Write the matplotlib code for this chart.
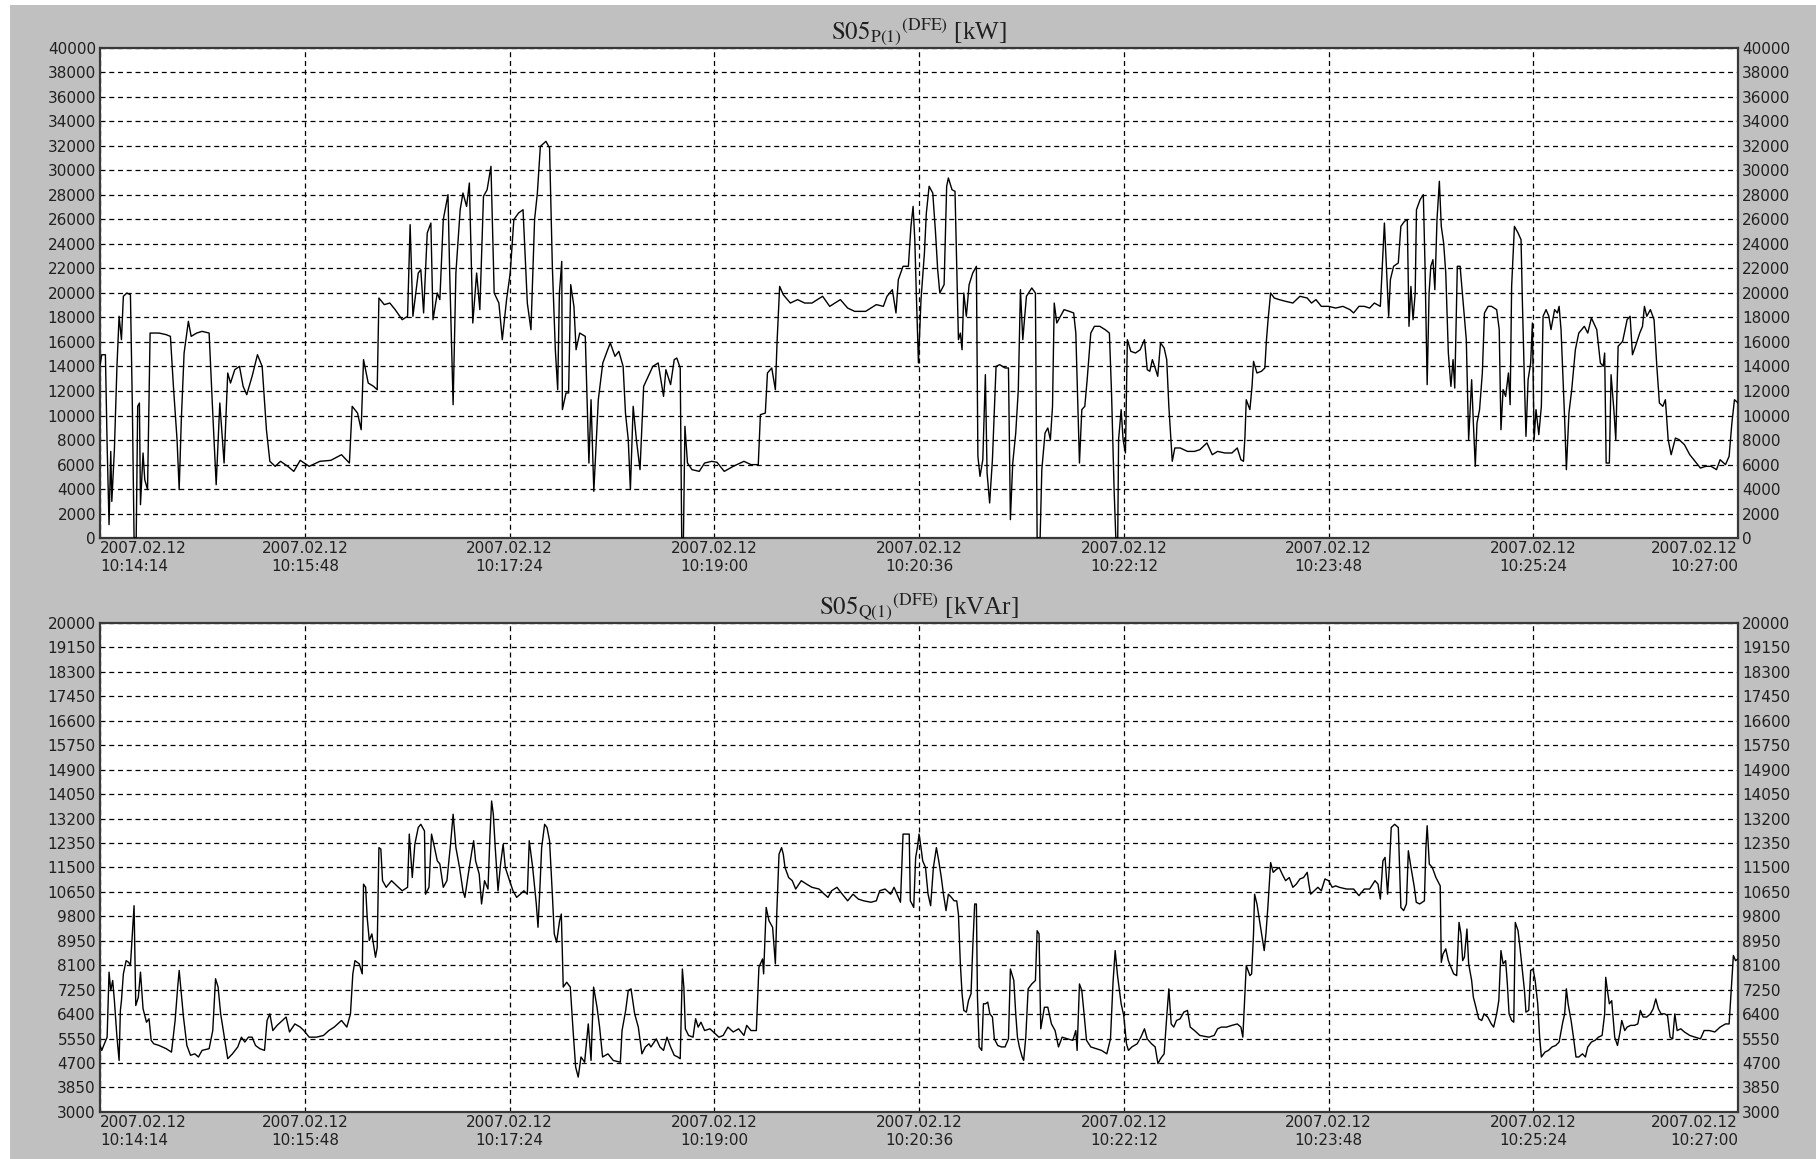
import numpy as np
import matplotlib
matplotlib.use('Agg')
import matplotlib.pyplot as plt
from matplotlib.patches import Rectangle

plt.rcParams['font.family'] = 'DejaVu Sans'
plt.rcParams['mathtext.fontset'] = 'stix'

# time axis: seconds after 2007.02.12 10:14:14
tick_dates = ['2007.02.12'] * 9
tick_times = ['10:14:14', '10:15:48', '10:17:24', '10:19:00', '10:20:36',
              '10:22:12', '10:23:48', '10:25:24', '10:27:00']
span_s = 766.0

# active power P(1) [kW]
p_t = [0.0, 0.8, 2.5, 3.3, 4.2, 5.0, 5.5, 6.7, 7.9, 8.9, 10.0, 10.9, 12.5, 14.2, 15.1,
       15.9, 16.9, 17.6, 18.4, 18.9, 20.1, 20.9, 22.2, 23.4, 25.1, 27.6, 30.9, 32.9, 34.3,
       36.0, 37.0, 38.0, 39.3, 41.3, 42.6, 45.2, 47.7, 51.0, 52.7, 54.3, 56.0, 58.0, 59.7,
       61.0, 63.0, 65.2, 66.9, 68.6, 71.1, 73.6, 75.8, 77.8, 79.4, 81.9, 84.4, 87.8, 90.6,
       93.6, 97.8, 102.8, 107.9, 112.9, 116.6, 117.9, 120.4, 122.1, 123.2, 125.4, 127.9,
       129.6, 130.4, 132.9, 135.5, 138.0, 141.3, 143.8, 145.0, 146.3, 148.8, 150.0, 151.3,
       153.0, 154.7, 155.7, 157.7, 158.9, 160.5, 162.7, 163.5, 165.1, 166.4, 168.4, 169.7,
       171.4, 172.7, 174.3, 176.1, 177.6, 179.3, 181.0, 182.8, 184.3, 186.5, 188.1, 190.1,
       191.8, 193.5, 195.7, 197.8, 199.8, 201.5, 203.2, 204.5, 205.9, 208.5, 210.2, 211.5,
       212.9, 214.0, 214.8, 215.9, 216.2, 217.9, 219.1, 220.1, 221.6, 222.6, 224.3, 226.9,
       228.6, 229.6, 230.9, 233.0, 235.1, 237.1, 238.6, 240.8, 242.6, 244.6, 245.7, 247.0,
       248.0, 249.3, 250.8, 252.5, 254.2, 256.7,
       258.5, 261.0, 263.5, 264.6, 266.8, 268.5, 269.7, 271.3, 272.0, 272.8, 273.5, 274.7,
       276.8, 280.2, 282.7, 286.0, 288.5, 291.9, 296.1, 301.1, 304.4, 307.8, 308.8, 311.1,
       312.1, 314.1, 315.8, 316.6, 317.8, 319.5, 322.8, 326.2, 329.5, 332.9, 337.9, 341.2,
       346.2, 349.6, 352.9, 358.0, 363.0, 366.3, 368.0, 370.5, 372.2, 373.3, 375.5, 378.0,
       379.2, 380.2, 381.0, 381.7, 382.7, 383.9, 385.5, 386.4, 387.7, 389.4, 390.7, 391.7,
       392.7, 394.7, 395.9, 396.7, 398.4, 399.8, 400.6, 401.4, 402.3, 403.1, 403.9, 405.1,
       406.4, 408.1, 409.8, 410.5, 411.5, 412.8, 414.0, 414.8, 416.0, 417.3, 419.0, 420.7,
       423.2, 424.8, 425.7, 426.8, 428.2, 429.4, 430.4, 431.5, 433.2, 435.7, 437.4, 438.2,
       439.6, 440.4, 441.9, 443.2, 444.4, 445.4, 446.2, 447.4, 449.1, 450.8, 453.3, 455.3,
       456.3, 457.0, 458.0, 459.1, 460.5, 461.6, 463.3, 465.0, 467.5, 470.0, 472.0, 473.0,
       474.2, 475.0, 475.9, 476.3, 477.5, 478.4, 479.5, 480.4, 482.0, 484.2, 486.4, 488.4,
       489.7, 490.9, 492.1, 493.4, 494.6, 495.9, 497.6, 498.8, 499.8, 501.4, 502.6, 505.1,
       508.5, 511.8, 514.3,
       517.6, 520.1, 522.6, 526.0, 529.3, 531.8, 533.5, 534.7, 535.4, 536.0, 537.7, 538.7,
       539.4, 541.0, 543.1, 544.7, 545.4, 546.2, 547.4, 549.1, 551.4, 554.4, 557.8, 561.1,
       564.5, 566.5, 568.6, 571.1, 574.5, 577.8, 581.2, 584.5, 586.2, 588.7, 591.2, 593.7,
       595.9, 598.7, 599.6, 600.6, 601.6, 602.6, 603.4, 604.9, 607.1, 608.3, 610.0, 611.3,
       612.1, 613.0, 614.0, 615.0, 615.6, 617.3, 618.8, 619.6, 620.6, 621.5, 622.3, 623.3,
       624.2, 625.2, 626.3, 627.2, 628.3, 629.3, 630.5, 631.7, 632.7, 633.5, 634.7, 636.0,
       637.2, 638.9, 640.0, 641.4, 642.2, 643.1, 643.9, 645.1, 646.4, 647.4, 649.1, 650.7,
       653.1, 654.3, 655.1, 656.1, 657.3, 658.6, 659.4, 660.1, 661.4, 663.1, 664.5, 665.1,
       666.1, 666.8, 667.8, 669.0, 669.8, 670.6, 671.5, 672.8, 674.0, 674.8, 676.2, 677.5,
       678.5, 680.2, 681.5, 682.3, 683.2, 684.9, 685.7, 686.9, 688.2, 689.9, 691.5, 694.1,
       695.7, 697.4, 699.9, 701.6, 702.9, 703.6, 704.3, 705.8, 706.6, 707.9, 708.8, 709.9,
       712.0, 714.1, 715.5, 716.6, 718.0, 720.0, 721.3, 722.2, 723.3, 725.0, 726.7, 728.0,
       729.2, 730.8, 732.0, 733.3, 734.7, 736.7, 738.4, 740.9, 743.4, 745.9, 748.4, 750.9,
       753.4, 755.9, 757.6, 760.1, 761.8, 763.1, 764.3, 766.0]
p_kw = [14150, 14960, 14960, 7620, 1090, 7070, 2990, 7210, 14010, 18100, 16190, 19730, 20000,
        19860, 10750, 0, 0, 10750, 11020, 2720, 6940, 4760, 3950, 16730, 16730, 16730, 16600,
        16460, 12380, 8030, 3950, 9660, 15100, 17690, 16460, 16730, 16870, 16730, 10200, 4350,
        11020, 6120, 13470, 12650, 13740, 14010, 12380, 11700, 13200, 14960, 14010, 8840, 6260,
        5850, 6260, 5850, 5440, 6340, 5850, 6260, 6340, 6800, 6120, 10750, 10200, 8840, 14560,
        12650, 12380, 12110, 19590, 19050, 19180, 18640, 17820, 18100, 25580, 18100, 21630,
        21900, 18370, 24900, 25710, 17820, 20000, 19460, 25990, 28030, 21630, 10880, 21630,
        26800, 28160, 27070, 28980, 17550, 21630, 18640, 27890, 28430, 30340, 20000, 19180,
        16190, 19460, 21630, 25990, 26530, 26800, 19180, 17000, 25990, 28160, 31970, 32380,
        31840, 22180, 15370, 12110, 20000, 22580, 10480, 11840, 11840, 20680, 18910, 15370,
        16730, 16460, 6120, 11290, 3810, 11290, 14290, 15240, 15920, 14830, 15240, 14010,
        10200, 8030, 3950, 10750, 8030, 5580, 12380, 13330,
        14010, 14290, 11560, 13740, 12520, 14560, 14690, 13880, 0, 0, 9120, 6120,
        5580, 5440, 6120, 6260, 6180, 5440, 5850, 6260, 5990, 5990, 10070, 10200,
        13470, 13880, 12110, 16050, 20540, 19860, 19180, 19460, 19180, 19180, 19730, 18910,
        19460, 18770, 18500, 18500, 19050, 18910, 19730, 20270, 18370, 21090, 22180, 22180,
        25440, 27070, 24350, 20000, 14290, 19460, 23270, 26530, 28710, 28160, 24900, 21900,
        20000, 20680, 28710, 29390, 28430, 28300, 22180, 16190, 16730, 15370, 20000, 18100,
        20680, 21630, 22180, 6670, 5030, 6390, 13330, 5310, 2860, 6390, 14010, 14150,
        13880, 13880, 1500, 6120, 8570, 12110, 20270, 16190, 19730, 20410, 20000, 0,
        0, 5580, 8570, 8980, 8030, 10750, 19180, 17550, 18100, 18640, 18500, 18370,
        16730, 12380, 6120, 10480, 10750, 12920, 16730, 17280, 17280, 17010, 16730, 11840,
        3950, 0, 0, 8030, 10480, 8030, 6940, 16190, 15240, 15100, 15370, 16190,
        13740, 13610, 14560, 13880, 13200, 15920, 15510, 14560, 10750, 6260, 7350, 7350,
        7070, 7070, 7210,
        7760, 6800, 7070, 6940, 6940, 7350, 6390, 6260, 8300, 11290, 10480, 12380,
        14420, 13470, 13610, 13880, 16050, 17820, 20000, 19590, 19460, 19320, 19180, 19730,
        19590, 19180, 19460, 18910, 18910, 18770, 18910, 18640, 18370, 18910, 18910, 18770,
        19180, 18910, 22180, 25710, 21900, 18100, 21090, 22180, 22450, 25440, 25850, 25990,
        17280, 20540, 17820, 20000, 26800, 27620, 28030, 22180, 12520, 20000, 22180, 22720,
        20270, 25990, 29120, 25440, 24080, 21630, 15100, 12380, 14560, 12240, 22180, 22180,
        19730, 16190, 8030, 12920, 9390, 5850, 9390, 10480, 13470, 18370, 18910, 18910,
        18640, 17010, 8840, 12110, 11560, 13470, 10880, 20540, 25440, 24900, 24350, 19460,
        12650, 8300, 12920, 14290, 17550, 8030, 10480, 8440, 10750, 18100, 18640, 18100,
        17010, 18640, 18370, 18910, 17010, 9660, 5580, 10200, 12110, 15370, 16730, 17280,
        16730, 17960, 17010, 14290, 14010, 15100, 6120, 6120, 13330, 10480, 8030, 15650,
        16050, 17820, 18100, 14960, 15650, 16730, 17280, 18910, 18100, 18640, 17820, 14010,
        11020, 10750, 11290, 8030, 6800, 8160, 8030, 7620, 6800, 6260, 5710, 5850,
        5850, 5580, 6390, 5990, 6670, 9390, 11290, 11020]

# reactive power Q(1) [kVAr]
q_t = [0.0, 0.8, 1.7, 3.3, 4.2, 5.0, 5.9, 6.7, 7.9, 8.9, 9.5, 10.0, 10.9, 12.2, 13.4, 14.2,
       15.1, 15.9, 16.7, 17.9, 18.9, 20.1, 21.7, 22.9, 23.9, 25.1, 27.6, 30.9, 33.4, 35.1,
       36.3, 37.0, 38.0, 39.0, 40.6, 42.3, 44.3, 46.0, 47.7, 51.0, 52.7, 54.0, 55.2, 56.4,
       58.0, 59.7, 61.9, 64.4, 66.1, 67.7, 69.4, 71.1, 72.7, 74.7, 76.9, 78.1, 79.4, 80.8,
       82.8, 85.3, 87.0, 88.6, 91.1, 93.6, 95.3, 97.8, 101.2, 104.5, 107.0, 109.5, 112.9,
       115.4, 117.1, 118.2, 119.2, 121.2, 122.6, 123.2, 124.2, 124.9, 125.9, 127.1, 128.8,
       129.6, 130.4, 131.3, 132.1, 133.8, 136.3, 138.8, 141.3, 143.8, 144.6, 146.0, 147.2,
       148.8, 150.0, 151.7, 152.2, 153.8, 155.0, 156.4, 157.7, 158.9, 160.5, 162.2, 163.9,
       165.1, 166.4, 168.1, 169.7, 170.6, 172.2, 173.9, 174.7, 175.6, 177.3, 178.4, 179.8,
       181.4, 182.3, 183.1, 183.9, 184.8, 186.1, 187.3, 188.5, 189.5, 191.5, 193.1, 194.8,
       196.5, 198.2, 199.8, 200.7, 201.5, 202.3, 204.0, 204.8, 205.7, 206.5, 207.9, 209.0,
       210.2, 211.5, 212.4, 213.5, 214.9, 215.7, 216.6, 218.2, 219.9, 221.2, 222.4, 223.6,
       224.9, 226.6, 228.3, 229.6, 230.8, 232.4, 233.6, 235.0, 237.5, 240.0, 243.3, 244.1,
       245.8, 247.0, 248.3, 250.0, 251.7, 253.4, 255.0, 256.7,
       257.6, 260.1, 261.8, 263.5, 265.1, 266.8, 268.5, 270.2, 271.3, 272.3, 273.0, 273.7,
       275.2, 277.3, 278.5, 279.7, 281.0, 282.7, 285.2, 287.7, 289.4, 291.4, 293.6, 296.1,
       298.6, 301.1, 302.4, 304.4, 306.9, 308.1, 309.8, 310.3, 311.5, 312.8, 314.5, 315.8,
       316.5, 317.5, 318.7, 319.5, 320.3, 322.0, 323.7, 325.3, 327.9, 330.4, 332.9, 336.2,
       338.7, 340.4, 342.1, 344.6, 347.1, 349.6, 352.1, 354.6, 357.1, 360.5, 363.0, 364.6,
       367.1, 369.7, 371.3, 373.0, 374.3, 375.5, 377.2, 378.4, 378.9, 379.7, 380.5, 381.4,
       382.2, 383.0, 383.9, 384.7, 386.0, 387.2, 388.4, 389.7, 391.1, 392.2, 393.4, 394.4,
       395.6, 396.7, 398.1, 399.4, 400.6, 401.4, 402.3, 403.1, 403.9, 405.1, 406.1, 407.3,
       408.1, 409.0, 409.8, 410.3, 411.1, 412.3, 413.1, 414.1, 415.1, 416.1, 417.3, 418.2,
       419.8, 421.5, 423.2, 424.8, 425.7, 427.3, 428.2, 429.0, 429.9, 431.2, 431.9, 432.9,
       434.0, 435.7, 437.4, 438.2, 439.1, 439.9, 441.6, 443.2, 444.9, 446.6, 448.2, 449.9,
       452.4, 454.9, 456.3, 456.9, 458.0, 459.1, 460.0, 461.3, 463.3, 465.8, 468.3, 470.8,
       472.5, 473.7, 474.7, 475.8, 477.5, 478.7, 480.0, 480.9, 482.5, 485.0, 486.7, 488.4,
       489.7, 491.7, 493.4, 494.7, 495.9, 497.6, 498.8, 499.8, 500.9, 502.1, 503.4, 505.1,
       506.8, 508.5, 509.8, 511.8, 514.3,
       518.5, 521.0, 522.6, 524.3, 526.8, 529.3, 531.8, 533.5, 534.4, 535.2, 536.0, 537.7,
       538.5, 539.4, 539.9, 541.0, 542.7, 544.4, 545.2, 546.1, 547.4, 548.6, 550.2, 551.4,
       552.8, 554.4, 556.1, 557.8, 559.4, 561.1, 562.8, 564.5, 565.3, 566.1, 567.8, 569.5,
       571.1, 572.8, 574.5, 576.2, 577.8, 579.5, 582.9, 586.2, 588.7, 591.2, 593.7, 596.2,
       597.6, 598.7, 599.9, 600.9, 602.1, 602.9, 603.8, 605.4, 607.1, 608.3, 609.6, 610.9,
       611.8, 612.9, 614.6, 615.5, 617.1, 619.3, 620.0, 620.6, 621.6, 623.0, 624.7, 626.7,
       627.2, 628.0, 629.3, 630.5, 631.7, 633.0, 634.4, 635.5, 636.4, 637.2, 638.0, 639.2,
       640.0, 641.4, 642.2, 643.4, 644.7, 646.1, 647.2, 648.9, 650.6, 651.7, 653.1, 654.1,
       655.1, 656.1, 657.3, 658.1, 658.9, 660.1, 661.1, 661.8, 663.1, 664.0, 664.8, 666.1,
       666.8, 668.1, 669.0, 670.1, 671.1, 672.3, 673.2, 674.0, 675.7, 677.3, 679.0, 680.7,
       682.3, 684.0, 684.9, 685.7, 686.5, 687.9, 689.0, 690.2, 691.5, 693.2, 694.6, 695.7,
       697.4, 699.1, 700.7, 702.4, 703.6, 704.1, 704.9, 705.8, 706.9, 708.3, 709.6, 710.8,
       711.6, 713.0, 714.1, 715.8, 717.5, 719.1, 720.3, 721.6, 723.3, 725.0, 726.3, 727.5,
       728.7, 730.0, 731.7, 733.0, 734.2, 735.4, 736.4, 737.5, 739.2, 740.9, 743.4, 745.9,
       748.4, 750.1, 752.6, 755.1, 757.6, 760.1, 761.8, 763.1, 763.8, 764.8, 766.0]
q_kvar = [5310, 5140, 5310, 5600, 7860, 7220, 7570, 6870, 5600, 4790, 6530, 6870, 7800, 8260,
          8200, 8090, 9190, 10170, 6700, 6990, 7860, 6590, 6120, 6240, 5490, 5370, 5310, 5200,
          5080, 6180, 7340, 7920, 7110, 6300, 5310, 4970, 5020, 4910, 5140, 5200, 5830, 7630,
          7340, 6410, 5660, 4850, 5020, 5260, 5600, 5430, 5600, 5600, 5310, 5200, 5140, 6180,
          6410, 5830, 6010, 6180, 6300, 5780, 6060, 5950, 5830, 5600, 5600, 5660, 5830, 5950,
          6180, 5950, 6410, 7800, 8260, 8150, 7800, 10920, 10810, 9770, 8960, 9190, 8380, 8720,
          12190, 12140, 11040, 10810, 11040, 10860, 10690, 10810, 12660, 11150, 12310, 12890,
          13000, 12770, 10570, 10810, 12660, 12190, 11730, 11620, 10810, 11040, 12310, 13350,
          12190, 11500, 10690, 10460, 11270, 12080, 12430, 11730, 11270, 10230, 11040, 10750,
          12540, 13810, 13350, 12190, 10690, 11620, 12310, 11500, 11040, 10690, 10460, 10570,
          10690, 10570, 12430, 11960, 11500, 10230, 9420, 10810, 12190, 13000, 12890, 12430,
          10570, 9190, 8900, 9650, 9880, 7340, 7510, 7340, 5830, 4560, 4210, 4910, 4730, 6060,
          4790, 7340, 6640, 5950, 4910, 5020, 4790, 4730, 5830, 6530, 7220, 7280, 6410, 5950,
          5020, 5260, 5370,
          5260, 5540, 5260, 5140, 5600, 5260, 4970, 4910, 4850, 7970, 7340, 5890,
          5660, 5600, 6240, 5950, 6120, 5830, 5890, 5720, 5600, 5660, 5950, 5780,
          5890, 5660, 6010, 5830, 5830, 8030, 8320, 7800, 10110, 9650, 9420, 8150,
          10000, 11960, 12190, 11960, 11500, 11150, 11040, 10750, 11040, 10920, 10810, 10750,
          10570, 10460, 10690, 10810, 10570, 10340, 10570, 10400, 10340, 10290, 10340, 10690,
          10750, 10570, 10810, 10520, 10290, 12660, 12660, 12660, 10340, 10230, 10110, 11850,
          12190, 12660, 12190, 11730, 11500, 10570, 10170, 11500, 12190, 11730, 11150, 10570,
          10000, 10570, 10460, 10340, 10340, 9880, 8150, 7110, 6530, 6470, 6870, 7110,
          8720, 10230, 10230, 6990, 5260, 5140, 6760, 6760, 6820, 6410, 6300, 5540,
          5310, 5260, 5260, 5540, 7970, 7570, 6410, 5600, 5260, 4910, 4790, 5600,
          7280, 7450, 7570, 9300, 9190, 5890, 6640, 6640, 6060, 5830, 5260, 5600,
          5540, 5490, 5830, 5140, 7450, 7220, 6530, 5490, 5260, 5200, 5140, 5020,
          5540, 7510, 8610, 7740, 6760, 6350, 5370, 5140, 5260, 5370, 5600, 5890,
          5540, 5370, 5260, 4680, 4850, 5020, 6300, 7280, 6060, 5950, 6180, 6240,
          6470, 6530, 5950, 5830, 5660,
          5600, 5660, 5890, 5950, 5950, 6010, 6060, 5950, 5600, 6870, 8090, 7740,
          7800, 9190, 10570, 10230, 9420, 8610, 9190, 10110, 11670, 11330, 11440, 11500,
          11270, 11040, 11150, 10810, 10920, 11100, 11150, 11330, 10920, 10570, 10690, 10810,
          10690, 11100, 11040, 10810, 10860, 10810, 10750, 10750, 10520, 10750, 10750, 11040,
          10920, 10400, 11730, 11850, 10570, 11500, 12890, 13000, 12890, 10110, 10000, 10230,
          12080, 11560, 10810, 10290, 10230, 10340, 12190, 12950, 11620, 11500, 11150, 10860,
          8200, 8490, 8670, 8260, 8030, 7800, 7740, 9590, 9190, 8260, 8380, 9360,
          8150, 7570, 6990, 6640, 6240, 6180, 6410, 6300, 6060, 5950, 6410, 6870,
          8610, 8150, 8260, 7450, 6410, 6180, 6120, 9590, 9300, 8720, 8150, 7220,
          6470, 6530, 7920, 7970, 7570, 6760, 5600, 4910, 5080, 5140, 5260, 5310,
          5430, 6120, 6410, 7280, 6760, 6180, 5600, 4910, 4910, 5020, 4910, 5260,
          5430, 5490, 5600, 5660, 6410, 7680, 7220, 6760, 6870, 5600, 5310, 5780,
          6180, 5830, 5950, 6010, 6010, 6060, 6530, 6300, 6300, 6410, 6590, 6930,
          6590, 6410, 6410, 6350, 5600, 5540, 6410, 5830, 5890, 5780, 5660, 5600,
          5540, 5830, 5830, 5780, 5950, 6060, 6060, 7570, 8440, 8260, 8320]

BG = '#c0c0c0'


def draw_panel(ax, t, v, ymin, ymax, ystep, title):
    ax.set_facecolor('white')
    ax.plot(t, v, color='black', lw=1.0, zorder=3)
    ax.set_xlim(0, span_s)
    ax.set_ylim(ymin, ymax)

    yt = np.arange(ymin, ymax + 1, ystep)
    ax.set_yticks(yt)
    ax.set_yticklabels([str(int(y)) for y in yt])
    xt = np.linspace(0, span_s, len(tick_times))
    ax.set_xticks(xt)
    ax.set_xticklabels([d + '\n' + h for d, h in zip(tick_dates, tick_times)])
    labels = ax.get_xticklabels()
    for lbl in labels:
        lbl.set_linespacing(1.3)
    labels[0].set_ha('left')
    labels[0].set_multialignment('left')
    labels[-1].set_ha('right')
    labels[-1].set_multialignment('right')

    ax.tick_params(axis='y', length=0, pad=3, labelsize=11, labelleft=True,
                   labelright=True, colors='#202020')
    ax.tick_params(axis='x', length=0, pad=2, labelsize=11, colors='#202020')
    ax.grid(True, color='black', linestyle=(0, (4, 3)), linewidth=0.9)
    for s in ax.spines.values():
        s.set_color('#383838')
        s.set_linewidth(1.6)
    ax.set_title(title, fontsize=18, family='Liberation Serif', pad=1, color='#202020')


fig = plt.figure(figsize=(18.16, 11.59), dpi=100)
fig.patch.set_facecolor('white')
fig.add_artist(Rectangle((10 / 1816, 0), 1, 1 - 5 / 1159, transform=fig.transFigure,
                         facecolor=BG, edgecolor='none', zorder=-10))

ax1 = fig.add_axes([0.0551, 0.5358, 0.9020, 0.4228])
ax2 = fig.add_axes([0.0551, 0.0406, 0.9020, 0.4219])

draw_panel(ax1, p_t, p_kw, 0, 40000, 2000,
           r'$\mathrm{S05}_{\mathrm{P(1)}}{}^{\mathrm{(DFE)}}$ [kW]')
draw_panel(ax2, q_t, q_kvar, 3000, 20000, 850,
           r'$\mathrm{S05}_{\mathrm{Q(1)}}{}^{\mathrm{(DFE)}}$ [kVAr]')

fig.savefig('out.png', dpi=100, facecolor=fig.get_facecolor())
